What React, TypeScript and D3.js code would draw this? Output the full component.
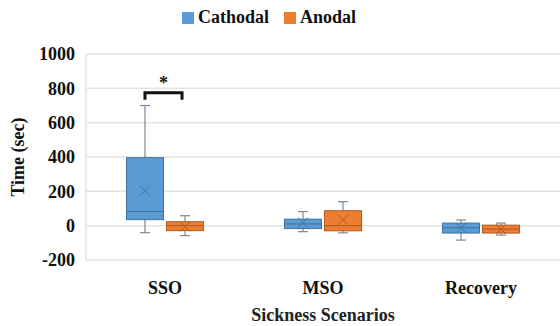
import * as d3 from "d3";
import { useEffect, useRef } from "react";

// categories and series
const scenarios = ["SSO", "MSO", "Recovery"];
const groups = ["Cathodal", "Anodal"];

// five-number summaries + mean (seconds)
const cathodalMin = [-41, -35, -84];
const cathodalQ1 = [35, -17, -43];
const cathodalMedian = [82, 10, -12];
const cathodalQ3 = [396, 38, 15];
const cathodalMax = [700, 82, 33];
const cathodalMean = [204, 18, -12];

const anodalMin = [-58, -42, -55];
const anodalQ1 = [-29, -30, -43];
const anodalMedian = [0, 0, -20];
const anodalQ3 = [23, 87, 3];
const anodalMax = [58, 140, 15];
const anodalMean = [-5, 35, -20];

const yTicks = [-200, 0, 200, 400, 600, 800, 1000];

const fills = { Cathodal: "#5B9BD5", Anodal: "#ED7D31" };
const strokes = { Cathodal: "#41719C", Anodal: "#AE5A21" };

const W = 560;
const H = 326;
const margin = { top: 54, right: 0, bottom: 66, left: 86 };
const FONT = "Liberation Serif, DejaVu Serif, serif";

const App = () => {
  const svgRef = useRef(null);

  useEffect(() => {
    const svg = d3.select(svgRef.current);
    svg.selectAll("*").remove();

    const rows = [];
    scenarios.forEach((s, i) => {
      rows.push({
        scenario: s, group: "Cathodal",
        min: cathodalMin[i], q1: cathodalQ1[i], median: cathodalMedian[i],
        q3: cathodalQ3[i], max: cathodalMax[i], mean: cathodalMean[i],
      });
      rows.push({
        scenario: s, group: "Anodal",
        min: anodalMin[i], q1: anodalQ1[i], median: anodalMedian[i],
        q3: anodalQ3[i], max: anodalMax[i], mean: anodalMean[i],
      });
    });

    const x0 = d3
      .scaleBand()
      .domain(scenarios)
      .range([margin.left, W - margin.right]);

    const x1 = d3
      .scaleBand()
      .domain(groups)
      .range([0, x0.bandwidth()])
      .paddingInner(0.075)
      .paddingOuter(1.01);

    const y = d3
      .scaleLinear()
      .domain([-200, 1000])
      .range([H - margin.bottom, margin.top]);

    // gridlines
    svg
      .append("g")
      .selectAll("line")
      .data(yTicks)
      .join("line")
      .attr("x1", margin.left)
      .attr("x2", W - margin.right)
      .attr("y1", (d) => y(d))
      .attr("y2", (d) => y(d))
      .attr("stroke", "#e3e3e3")
      .attr("stroke-width", 1.5);

    // left axis line
    svg
      .append("line")
      .attr("x1", margin.left)
      .attr("x2", margin.left)
      .attr("y1", y(1000))
      .attr("y2", y(-200))
      .attr("stroke", "#e3e3e3")
      .attr("stroke-width", 1.5);

    // y tick labels
    svg
      .append("g")
      .selectAll("text")
      .data(yTicks)
      .join("text")
      .attr("x", 75)
      .attr("y", (d) => y(d))
      .attr("dy", "0.35em")
      .attr("text-anchor", "end")
      .attr("font-family", FONT)
      .attr("font-weight", "bold")
      .attr("font-size", 18)
      .attr("fill", "#111")
      .text((d) => d);

    // boxes
    const box = svg
      .append("g")
      .selectAll("g")
      .data(rows)
      .join("g")
      .attr("transform", (d) => `translate(${x0(d.scenario) + x1(d.group)},0)`);

    const bw = x1.bandwidth();
    const cap = 10;

    box
      .append("line")
      .attr("x1", bw / 2)
      .attr("x2", bw / 2)
      .attr("y1", (d) => y(d.max))
      .attr("y2", (d) => y(d.min))
      .attr("stroke", "#7a8a99")
      .attr("stroke-width", 1.2);

    box
      .selectAll(".cap")
      .data((d) => [d.min, d.max])
      .join("line")
      .attr("class", "cap")
      .attr("x1", bw / 2 - cap / 2)
      .attr("x2", bw / 2 + cap / 2)
      .attr("y1", (v) => y(v))
      .attr("y2", (v) => y(v))
      .attr("stroke", "#7a8a99")
      .attr("stroke-width", 1.2);

    box
      .append("rect")
      .attr("x", 0)
      .attr("width", bw)
      .attr("y", (d) => y(d.q3))
      .attr("height", (d) => y(d.q1) - y(d.q3))
      .attr("fill", (d) => fills[d.group])
      .attr("stroke", (d) => strokes[d.group])
      .attr("stroke-width", 1);

    box
      .append("line")
      .attr("x1", 0)
      .attr("x2", bw)
      .attr("y1", (d) => y(d.median))
      .attr("y2", (d) => y(d.median))
      .attr("stroke", (d) => strokes[d.group])
      .attr("stroke-width", 1);

    // mean marker (x)
    const m = 5;
    box
      .append("path")
      .attr("d", (d) => {
        const cx = bw / 2;
        const cy = y(d.mean);
        return `M${cx - m},${cy - m}L${cx + m},${cy + m}M${cx - m},${cy + m}L${cx + m},${cy - m}`;
      })
      .attr("stroke", (d) => strokes[d.group])
      .attr("stroke-width", 1);

    // significance bracket over SSO
    const bx1 = x0("SSO") + x1("Cathodal") + bw / 2;
    const bx2 = x0("SSO") + x1("Anodal") + bw / 2 - 3;
    const by = y(775);
    svg
      .append("path")
      .attr("d", `M${bx1},${by + 7}V${by}H${bx2}V${by + 7}`)
      .attr("fill", "none")
      .attr("stroke", "#111")
      .attr("stroke-width", 3);
    svg
      .append("text")
      .attr("x", (bx1 + bx2) / 2)
      .attr("y", by - 4)
      .attr("text-anchor", "middle")
      .attr("font-family", FONT)
      .attr("font-weight", "bold")
      .attr("font-size", 18)
      .attr("fill", "#111")
      .text("*");

    // x category labels
    svg
      .append("g")
      .selectAll("text")
      .data(scenarios)
      .join("text")
      .attr("x", (d) => x0(d) + x0.bandwidth() / 2)
      .attr("y", 294)
      .attr("text-anchor", "middle")
      .attr("font-family", FONT)
      .attr("font-weight", "bold")
      .attr("font-size", 18)
      .attr("fill", "#111")
      .text((d) => d);

    // axis titles
    svg
      .append("text")
      .attr("x", (margin.left + W - margin.right) / 2)
      .attr("y", 321)
      .attr("text-anchor", "middle")
      .attr("font-family", FONT)
      .attr("font-weight", "bold")
      .attr("font-size", 18)
      .attr("fill", "#222")
      .text("Sickness Scenarios");

    svg
      .append("text")
      .attr("transform", `translate(24,${(y(1000) + y(-200)) / 2}) rotate(-90)`)
      .attr("text-anchor", "middle")
      .attr("font-family", FONT)
      .attr("font-weight", "bold")
      .attr("font-size", 18)
      .attr("fill", "#111")
      .text("Time (sec)");

    // legend
    const legend = svg
      .append("g")
      .selectAll("g")
      .data(groups)
      .join("g")
      .attr("transform", (d, i) => `translate(${i === 0 ? 182 : 284},12)`);
    legend
      .append("rect")
      .attr("width", 12)
      .attr("height", 12)
      .attr("fill", (d) => fills[d]);
    legend
      .append("text")
      .attr("x", 16)
      .attr("y", 11)
      .attr("font-family", FONT)
      .attr("font-weight", "bold")
      .attr("font-size", 18)
      .attr("fill", "#111")
      .text((d) => d);
  }, []);

  return (
    <svg
      ref={svgRef}
      width={W}
      height={H}
      style={{ position: "absolute", left: 0, top: 0, background: "#fff" }}
    ></svg>
  );
};

export default App;
